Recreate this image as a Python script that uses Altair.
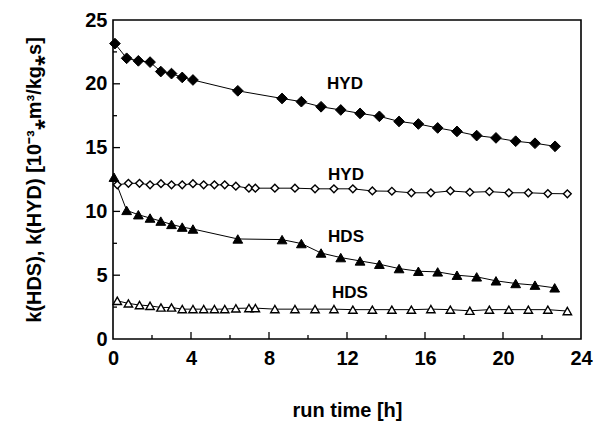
import altair as alt
import pandas as pd

# --- data ---
t_filled = [0.1, 0.7, 1.3, 1.9, 2.45, 3.0, 3.55, 4.1, 6.4, 8.67, 9.66, 10.67, 11.68,
            12.67, 13.66, 14.67, 15.66, 16.65, 17.64, 18.65, 19.64, 20.65, 21.64, 22.67]
k_hyd_filled = [23.15, 22.0, 21.8, 21.7, 20.96, 20.8, 20.5, 20.3, 19.45, 18.85, 18.6, 18.2,
                17.95, 17.68, 17.45, 17.05, 16.85, 16.54, 16.27, 15.94, 15.76, 15.5, 15.34, 15.1]
t_hds_filled = [0.05, 0.7, 1.3, 1.9, 2.45, 3.0, 3.55, 4.1, 6.4, 8.67, 9.66, 10.67, 11.68,
                12.67, 13.66, 14.67, 15.66, 16.65, 17.64, 18.65, 19.64, 20.65, 21.64, 22.65]
k_hds_filled = [12.68, 10.08, 9.74, 9.48, 9.24, 8.98, 8.77, 8.62, 7.84, 7.79, 7.48, 6.74,
                6.38, 6.12, 5.86, 5.52, 5.31, 5.26, 5.0, 4.87, 4.56, 4.35, 4.22, 4.01]

t_open = [0.22, 0.79, 1.36, 1.9, 2.46, 3.0, 3.55, 4.1, 4.65, 5.2, 5.73, 6.3, 6.97, 7.3,
          8.3, 9.33, 10.36, 11.33, 12.3, 13.3, 14.3, 15.3, 16.3, 17.3, 18.3, 19.3, 20.3,
          21.3, 22.3, 23.3]
k_hyd_open = [12.08, 12.2, 12.2, 12.08, 12.17, 12.08, 12.08, 12.17, 12.08, 12.08, 12.08,
              11.98, 11.82, 11.82, 11.82, 11.82, 11.77, 11.77, 11.77, 11.6, 11.58, 11.46,
              11.46, 11.6, 11.5, 11.55, 11.46, 11.46, 11.4, 11.38]
k_hds_open = [2.99, 2.79, 2.66, 2.6, 2.47, 2.47, 2.34, 2.34, 2.34, 2.34, 2.34, 2.4, 2.42,
              2.42, 2.34, 2.34, 2.34, 2.34, 2.3, 2.3, 2.3, 2.3, 2.34, 2.3, 2.21, 2.3, 2.3,
              2.3, 2.3, 2.19]

label_text = ["HYD", "HYD", "HDS", "HDS"]
label_x = [11.9, 11.95, 11.95, 12.15]
label_y = [19.98, 12.89, 8.02, 3.59]

x_major = [4, 8, 12, 16, 20]
x_minor = [2, 6, 10, 14, 18, 22]
y_major = [5, 10, 15, 20]
y_minor = [2.5, 7.5, 12.5, 17.5, 22.5]

W, H = 468, 319
FONT = "Liberation Sans"

xs = alt.Scale(domain=[0, 24], nice=False, zero=False)
ys = alt.Scale(domain=[0, 25], nice=False, zero=False)

x_axis = alt.Axis(values=[0, 4, 8, 12, 16, 20, 24], title="run time [h]", ticks=False,
                  domain=False, grid=False, labelFont=FONT, labelFontSize=20,
                  labelFontWeight="bold", labelColor="black", labelPadding=9,
                  titleFont=FONT, titleFontSize=20, titleFontWeight="bold",
                  titleColor="black", titlePadding=32, labelFlush=False)
y_axis = alt.Axis(values=[0, 5, 10, 15, 20, 25], title="k(HDS), k(HYD) [10⁻³⁎m³/kg⁎s]",
                  ticks=False, domain=False, grid=False, labelFont=FONT, labelFontSize=20,
                  labelFontWeight="bold", labelColor="black", labelPadding=6,
                  titleFont=FONT, titleFontSize=20, titleFontWeight="bold",
                  titleColor="black", titlePadding=40, labelFlush=False)


def X(field):
    return alt.X(f"{field}:Q", scale=xs, axis=x_axis)


def Y(field):
    return alt.Y(f"{field}:Q", scale=ys, axis=y_axis)


def series_df(t, k):
    return pd.DataFrame({"t": t, "k": k})


def line_layer(df):
    return alt.Chart(df).mark_line(color="black", strokeWidth=1).encode(x=X("t"), y=Y("k"))


def point_layer(df, shape, filled, size):
    return alt.Chart(df).mark_point(
        shape=shape, filled=True, size=size,
        fill="black" if filled else "white", stroke="black",
        strokeWidth=1 if filled else 1.4, opacity=1,
    ).encode(x=X("t"), y=Y("k"))


d1 = series_df(t_filled, k_hyd_filled)
d2 = series_df(t_open, k_hyd_open)
d3 = series_df(t_hds_filled, k_hds_filled)
d4 = series_df(t_open, k_hds_open)

layers = [
    line_layer(d1), line_layer(d2), line_layer(d3), line_layer(d4),
    point_layer(d1, "diamond", True, 115),
    point_layer(d2, "diamond", False, 60),
    point_layer(d3, "triangle-up", True, 95),
    point_layer(d4, "triangle-up", False, 70),
]

labels = alt.Chart(pd.DataFrame({"x": label_x, "y": label_y, "text": label_text})).mark_text(
    font=FONT, fontSize=17, fontWeight="bold", color="black", align="center", baseline="middle"
).encode(x=X("x"), y=Y("y"), text="text:N")

xmaj = alt.Chart(pd.DataFrame({"v": x_major})).mark_rule(color="black", strokeWidth=1.3).encode(
    x=X("v"), y=alt.value(H), y2=alt.value(H - 7))
xmin = alt.Chart(pd.DataFrame({"v": x_minor})).mark_rule(color="black", strokeWidth=1.3).encode(
    x=X("v"), y=alt.value(H), y2=alt.value(H - 4))
ymaj = alt.Chart(pd.DataFrame({"v": y_major})).mark_rule(color="black", strokeWidth=1.3).encode(
    y=Y("v"), x=alt.value(0), x2=alt.value(7))
ymin = alt.Chart(pd.DataFrame({"v": y_minor})).mark_rule(color="black", strokeWidth=1.3).encode(
    y=Y("v"), x=alt.value(0), x2=alt.value(4))

chart = alt.layer(*layers, labels, xmaj, xmin, ymaj, ymin).properties(
    width=W, height=H,
    autosize=alt.AutoSizeParams(type="none"),
    padding={"left": 113, "top": 20, "right": 15, "bottom": 92},
    background="white",
).configure_view(stroke="black", strokeWidth=1.6)

chart.save("out.html", embed_options={"renderer": "svg", "actions": False})
